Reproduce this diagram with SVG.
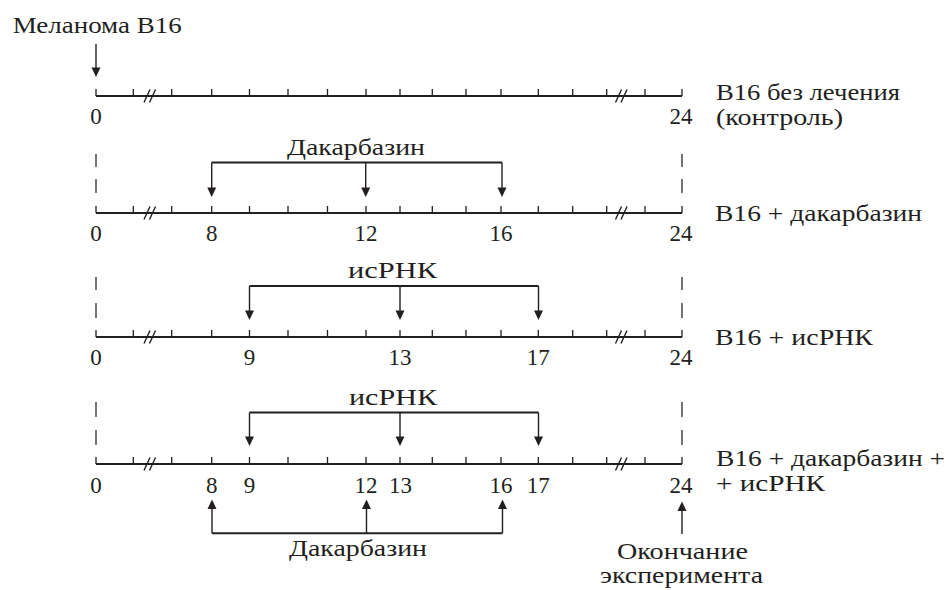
<svg xmlns="http://www.w3.org/2000/svg" width="948" height="590" viewBox="0 0 948 590">
<style>
text{font-family:"Liberation Serif","Times New Roman",serif;font-size:23px;fill:#231f20}
.n{text-anchor:middle}
.axis{stroke:#231f20;stroke-width:2;fill:none}
.tick{stroke:#231f20;stroke-width:1.3;fill:none}
.brk{stroke:#231f20;stroke-width:1.4;fill:none}
.dash{stroke:#3a3a3a;stroke-width:1.4;fill:none}
.br{stroke:#231f20;stroke-width:2;fill:none}
.sh{stroke:#231f20;stroke-width:1.4;fill:none}
</style>
<defs>
<g id="ticks">
<path class="tick" d="M96,0V-7M133.3,0V-7M171.7,0V-7M211.7,0V-7M249.5,0V-7M288,0V-7M327.5,0V-7M366,0V-7M400,0V-7M432.3,0V-7M466,0V-7M501,0V-7M538.3,0V-7M572.7,0V-7M606.7,0V-7M645,0V-7M682,0V-7"/>
<path class="axis" d="M96,0H682"/>
<path class="brk" d="M144,6.5L150,-6.5M149.5,6.5L155.5,-6.5M615.5,6.5L621.5,-6.5M621,6.5L627,-6.5"/>
</g>
<path id="dn" fill="#231f20" d="M-4.5,-9.5H4.5L0,0Z"/>
<path id="up" fill="#231f20" d="M-4.5,9.5H4.5L0,0Z"/>
</defs>

<g id="start-label">
<text x="12.7" y="33" textLength="169" lengthAdjust="spacingAndGlyphs">Меланома B16</text>
</g>

<g id="row1">
<use href="#ticks" transform="translate(0,96)"/>
<text class="n" x="96" y="124">0</text>
<text class="n" x="681" y="124">24</text>
<text x="716" y="100" textLength="184" lengthAdjust="spacingAndGlyphs">B16 без лечения</text>
<text x="716" y="125" textLength="127" lengthAdjust="spacingAndGlyphs">(контроль)</text>
</g>

<g id="row2">
<use href="#ticks" transform="translate(0,213)"/>
<text class="n" x="96" y="241">0</text>
<text class="n" x="211.7" y="241">8</text>
<text class="n" x="366" y="241">12</text>
<text class="n" x="501" y="241">16</text>
<text class="n" x="681" y="241">24</text>
<text x="715" y="221" textLength="207" lengthAdjust="spacingAndGlyphs">B16 + дакарбазин</text>
</g>

<g id="row3">
<use href="#ticks" transform="translate(0,337)"/>
<text class="n" x="96" y="365">0</text>
<text class="n" x="249.5" y="365">9</text>
<text class="n" x="400" y="365">13</text>
<text class="n" x="538.3" y="365">17</text>
<text class="n" x="681" y="365">24</text>
<text x="715" y="345" textLength="158" lengthAdjust="spacingAndGlyphs">B16 + исРНК</text>
</g>

<g id="row4">
<use href="#ticks" transform="translate(0,464)"/>
<text class="n" x="96" y="493">0</text>
<text class="n" x="211.7" y="493">8</text>
<text class="n" x="249.5" y="493">9</text>
<text class="n" x="366" y="493">12</text>
<text class="n" x="400.5" y="493">13</text>
<text class="n" x="501" y="493">16</text>
<text class="n" x="538.3" y="493">17</text>
<text class="n" x="681" y="493">24</text>
<text x="716" y="466" textLength="229" lengthAdjust="spacingAndGlyphs">B16 + дакарбазин +</text>
<text x="716" y="491" textLength="109" lengthAdjust="spacingAndGlyphs">+ исРНК</text>
</g>

<g id="dacarbazine-row2">
<text x="287" y="155" textLength="138" lengthAdjust="spacingAndGlyphs">Дакарбазин</text>
</g>
<g id="sirna-row3">
<text x="348" y="278" textLength="89" lengthAdjust="spacingAndGlyphs">исРНК</text>
</g>
<g id="sirna-row4">
<text x="349" y="405" textLength="88" lengthAdjust="spacingAndGlyphs">исРНК</text>
</g>
<g id="dacarbazine-row4">
<text x="289" y="556" textLength="138" lengthAdjust="spacingAndGlyphs">Дакарбазин</text>
</g>
<g id="end-label">
<text x="617" y="559" textLength="131" lengthAdjust="spacingAndGlyphs">Окончание</text>
<text x="600" y="583" textLength="163" lengthAdjust="spacingAndGlyphs">эксперимента</text>
</g>

<g id="connectors">
<path class="dash" d="M96,154V167M96,179V193M682,154V167M682,179V193"/>
<path class="dash" d="M96,277V290M96,303V318M682,277V290M682,303V318"/>
<path class="dash" d="M96,402V417M96,430V445M682,402V417M682,430V445"/>
<path class="sh" d="M96,44V68"/>
<use href="#dn" x="96" y="77"/>
<path class="br" d="M211.7,162.5H502"/>
<path class="sh" d="M211.7,162.5V188M365.7,162.5V188M502,162.5V188"/>
<use href="#dn" x="211.7" y="197"/>
<use href="#dn" x="365.7" y="197"/>
<use href="#dn" x="502" y="197"/>
<path class="br" d="M249.5,286H538.5"/>
<path class="sh" d="M249.5,286V311M400,286V311M538.5,286V311"/>
<use href="#dn" x="249.5" y="320"/>
<use href="#dn" x="400" y="320"/>
<use href="#dn" x="538.5" y="320"/>
<path class="br" d="M249.5,412.5H538.5"/>
<path class="sh" d="M249.5,412.5V437M400,412.5V437M538.5,412.5V437"/>
<use href="#dn" x="249.5" y="446"/>
<use href="#dn" x="400" y="446"/>
<use href="#dn" x="538.5" y="446"/>
<path class="br" d="M212,533.3H502.5"/>
<path class="sh" d="M212,533.3V508M366.5,533.3V508M502.5,533.3V508"/>
<use href="#up" x="212" y="499.5"/>
<use href="#up" x="366.5" y="499.5"/>
<use href="#up" x="502.5" y="499.5"/>
<path class="sh" d="M682,534V510"/>
<use href="#up" x="682" y="501.5"/>
</g>
</svg>
